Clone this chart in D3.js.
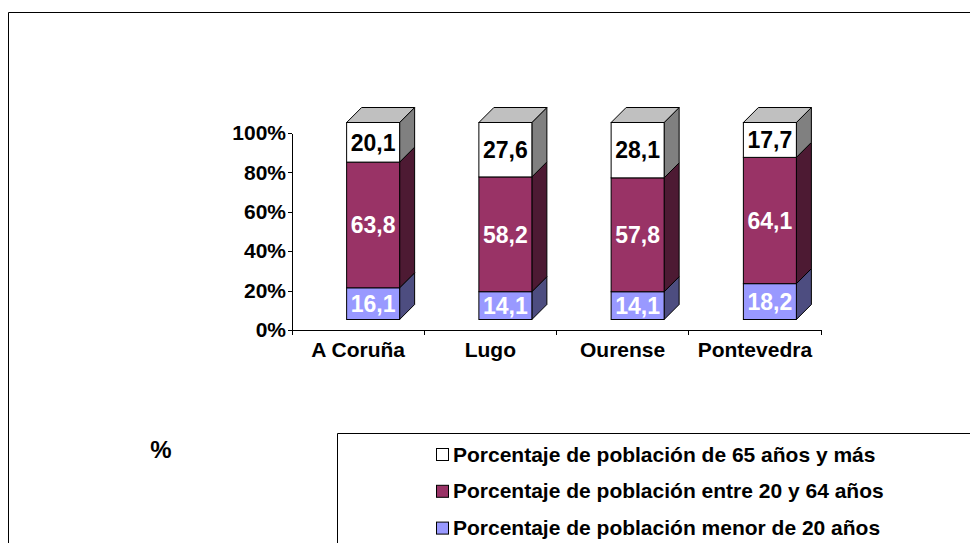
<!DOCTYPE html>
<html lang="es">
  <head>
    <meta charset="UTF-8" />
    <script src="https://d3js.org/d3.v7.min.js"></script>
    <title>Población por edad</title>
    <style>
      body { margin: 0; background: #fff; }
      svg { display: block; font-family: 'Liberation Sans', Arial, sans-serif; font-weight: bold; }
      .axis path, .axis line { stroke: #000; shape-rendering: crispEdges; }
      .axis text { font-size: 21px; font-weight: bold; fill: #000; font-family: 'Liberation Sans', Arial, sans-serif; }
    </style>
  </head>
  <body>
    <script>
      const provincias = ['A Coruña', 'Lugo', 'Ourense', 'Pontevedra']
      const menor20 = [16.1, 14.1, 14.1, 18.2]
      const entre20y64 = [63.8, 58.2, 57.8, 64.1]
      const mayor65 = [20.1, 27.6, 28.1, 17.7]
      const yTicks = [0, 0.2, 0.4, 0.6, 0.8, 1]
      const series = ['menor20', 'entre20y64', 'mayor65']
      const legendLabels = [
        'Porcentaje de población de 65 años y más',
        'Porcentaje de población entre 20 y 64 años',
        'Porcentaje de población menor de 20 años'
      ]

      const width = 970
      const height = 543

      const frontCol = { menor20: '#9999ff', entre20y64: '#993366', mayor65: '#ffffff' }
      const sideCol = { menor20: '#4d4d80', entre20y64: '#4d1a33', mayor65: '#808080' }
      const textCol = { menor20: '#fff', entre20y64: '#fff', mayor65: '#000' }
      const topCol = '#c0c0c0'

      const rows = provincias.map((p, i) => ({
        provincia: p, menor20: menor20[i], entre20y64: entre20y64[i], mayor65: mayor65[i]
      }))
      const stacked = d3.stack().keys(series).offset(d3.stackOffsetExpand)(rows)

      const svg = d3.select('body').append('svg')
        .attr('width', width).attr('height', height)

      // marco exterior
      svg.append('path')
        .attr('d', 'M8.5,' + (height + 5) + 'V12.5H' + (width + 5))
        .attr('fill', 'none').attr('stroke', '#000')

      const x = d3.scaleBand().domain(provincias).range([292, 821])
      const y = d3.scaleLinear().domain([0, 1]).range([330, 133])

      // desplazamiento 3D
      const fx = 15, fy = -10.5, barW = 53, dx = 15, dy = -15

      svg.append('g').attr('class', 'axis')
        .attr('transform', 'translate(292,0)')
        .call(d3.axisLeft(y).tickValues(yTicks).tickSize(4).tickSizeOuter(0)
          .tickFormat(d => Math.round(d * 100) + '%'))
        .call(g => g.selectAll('text').attr('x', -6))

      const xAxis = svg.append('g').attr('class', 'axis')
        .attr('transform', 'translate(0,330)')
        .call(d3.axisBottom(x).tickSize(0).tickSizeOuter(0).tickPadding(9))
      xAxis.selectAll('text').attr('dy', '0.85em')
      xAxis.selectAll('.edge')
        .data(provincias.map(p => x(p)).concat([x.range()[1]]))
        .join('line').attr('class', 'edge')
        .attr('x1', d => d).attr('x2', d => d)
        .attr('y1', 0).attr('y2', 5)

      const bars = svg.append('g')
      stacked.forEach(layer => {
        const key = layer.key
        layer.forEach((d, i) => {
          const p = provincias[i]
          const x0 = x(p) + x.bandwidth() / 2 + fx - barW / 2
          const x1 = x0 + barW
          const yb = y(d[0]) + fy
          const yt = y(d[1]) + fy
          // cara lateral
          bars.append('path')
            .attr('d', `M${x1},${yb}L${x1 + dx},${yb + dy}L${x1 + dx},${yt + dy}L${x1},${yt}Z`)
            .attr('fill', sideCol[key]).attr('stroke', '#000').attr('stroke-width', 1)
          // cara superior
          if (key === series[series.length - 1]) {
            bars.append('path')
              .attr('d', `M${x0},${yt}L${x0 + dx},${yt + dy}L${x1 + dx},${yt + dy}L${x1},${yt}Z`)
              .attr('fill', topCol).attr('stroke', '#000').attr('stroke-width', 1)
          }
          // cara frontal
          bars.append('rect')
            .attr('x', x0).attr('y', yt)
            .attr('width', barW).attr('height', yb - yt)
            .attr('fill', frontCol[key]).attr('stroke', '#000').attr('stroke-width', 1)
          bars.append('text')
            .attr('x', (x0 + x1) / 2).attr('y', (yb + yt) / 2)
            .attr('dy', '0.36em')
            .attr('text-anchor', 'middle')
            .attr('font-size', 23)
            .attr('fill', textCol[key])
            .text(d.data[key].toFixed(1).replace('.', ','))
        })
      })

      svg.append('text')
        .attr('x', 161).attr('y', 458)
        .attr('text-anchor', 'middle')
        .attr('font-size', 24)
        .text('%')

      // leyenda
      svg.append('path')
        .attr('d', 'M337.5,' + (height + 5) + 'V433.5H' + (width + 5))
        .attr('fill', 'none').attr('stroke', '#000')
      const legendKeys = ['mayor65', 'entre20y64', 'menor20']
      const leg = svg.append('g').selectAll('g')
        .data(legendKeys)
        .join('g')
        .attr('transform', (d, i) => `translate(436,${448 + i * 36.8})`)
      leg.append('rect')
        .attr('x', 0.5).attr('y', 0.5).attr('width', 12).attr('height', 12)
        .attr('fill', d => frontCol[d]).attr('stroke', '#000')
      leg.append('text')
        .attr('x', 17).attr('y', 13.5)
        .attr('font-size', 21)
        .text((d, i) => legendLabels[i])
    </script>
  </body>
</html>
